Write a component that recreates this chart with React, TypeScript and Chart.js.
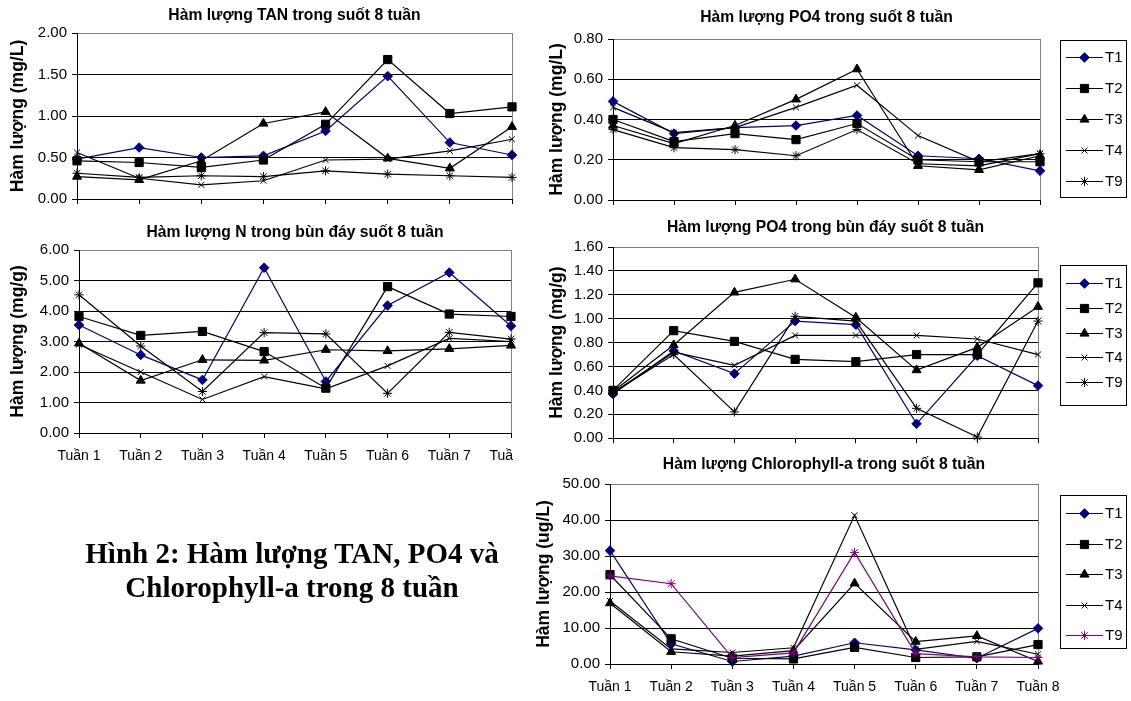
import React, { useEffect, useRef } from 'react';
import { Chart, registerables } from 'chart.js';
import { drawPoint } from 'chart.js/helpers';

Chart.register(...registerables);

const FONT = '"Liberation Sans", Arial, sans-serif';

const weeks = ['Tuần 1', 'Tuần 2', 'Tuần 3', 'Tuần 4', 'Tuần 5', 'Tuần 6', 'Tuần 7', 'Tuần 8'];
const treatments = ['T1', 'T2', 'T3', 'T4', 'T9'];

// Hàm lượng TAN (mg/L)
const tanT1 = [0.48, 0.62, 0.5, 0.52, 0.82, 1.48, 0.68, 0.53];
const tanT2 = [0.46, 0.44, 0.38, 0.47, 0.9, 1.68, 1.03, 1.11];
const tanT3 = [0.27, 0.23, 0.46, 0.91, 1.05, 0.49, 0.37, 0.87];
const tanT4 = [0.56, 0.25, 0.17, 0.22, 0.47, 0.48, 0.58, 0.72];
const tanT9 = [0.31, 0.26, 0.28, 0.27, 0.34, 0.3, 0.28, 0.26];

// Hàm lượng PO4 (mg/L)
const po4T1 = [0.49, 0.33, 0.36, 0.37, 0.42, 0.22, 0.205, 0.145];
const po4T2 = [0.4, 0.29, 0.33, 0.3, 0.38, 0.2, 0.19, 0.19];
const po4T3 = [0.37, 0.28, 0.37, 0.5, 0.65, 0.17, 0.15, 0.22];
const po4T4 = [0.46, 0.335, 0.36, 0.46, 0.57, 0.32, 0.19, 0.23];
const po4T9 = [0.35, 0.26, 0.25, 0.22, 0.35, 0.18, 0.17, 0.23];

// Hàm lượng N trong bùn đáy (mg/g)
const nT1 = [3.54, 2.56, 1.74, 5.42, 1.69, 4.18, 5.26, 3.51];
const nT2 = [3.82, 3.2, 3.33, 2.67, 1.47, 4.8, 3.9, 3.82];
const nT3 = [2.94, 1.72, 2.4, 2.38, 2.73, 2.69, 2.76, 2.87];
const nT4 = [2.9, 2.0, 1.1, 1.85, 1.45, 2.2, 3.1, 3.0];
const nT9 = [4.53, 2.85, 1.36, 3.29, 3.25, 1.3, 3.3, 3.08];

// Hàm lượng PO4 trong bùn đáy (mg/g)
const mudT1 = [0.37, 0.73, 0.54, 0.98, 0.95, 0.12, 0.69, 0.44];
const mudT2 = [0.4, 0.9, 0.81, 0.66, 0.64, 0.7, 0.7, 1.3];
const mudT3 = [0.39, 0.78, 1.22, 1.33, 1.01, 0.57, 0.76, 1.1];
const mudT4 = [0.38, 0.72, 0.61, 0.86, 0.86, 0.86, 0.83, 0.7];
const mudT9 = [0.38, 0.7, 0.22, 1.02, 0.98, 0.25, 0.01, 0.98];

// Hàm lượng Chlorophyll-a (ug/L)
const chlT1 = [31.5, 5.6, 0.7, 2.2, 5.9, 3.9, 1.6, 9.9];
const chlT2 = [24.8, 7.0, 1.6, 1.4, 4.6, 1.8, 2.0, 5.4];
const chlT3 = [16.9, 3.4, 2.2, 3.7, 22.4, 6.2, 7.8, 0.7];
const chlT4 = [17.5, 4.2, 3.2, 4.5, 41.3, 4.1, 6.3, 2.7];
const chlT9 = [24.5, 22.3, 1.8, 3.1, 31.0, 2.9, 2.0, 1.8];

const seriesColors = ['#000080', '#000000', '#000000', '#000000', '#000000'];
const chlColors = ['#000080', '#000000', '#000000', '#000000', '#800080'];
const pointStyles = ['rectRot', 'rect', 'triangle', 'crossRot', 'star'];
const pointRadii = [4.8, 5.8, 5.2, 4.2, 4.6];

const TITLE_SIZE = 15.7;
const YTITLE_SIZE = 17.5;

function makeDatasets(values: number[][], cols: string[]) {
  return treatments.map((name, i) => ({
    label: name,
    data: values[i],
    borderColor: cols[i],
    backgroundColor: cols[i],
    pointBackgroundColor: cols[i],
    pointBorderColor: cols[i],
    pointBorderWidth: 1,
    borderWidth: 1.2,
    pointStyle: pointStyles[i],
    pointRadius: pointRadii[i],
    tension: 0,
    clip: false,
    order: treatments.length - i,
  }));
}

const excelDecor = {
  id: 'excelDecor',
  beforeDraw(chart: any, _a: any, opts: any) {
    if (opts && opts.clipX) {
      chart.ctx.save();
      chart.ctx.beginPath();
      chart.ctx.rect(0, 0, opts.clipX, chart.height);
      chart.ctx.clip();
      chart.$clipped = true;
    }
  },
  beforeDatasetsDraw(chart: any) {
    const ctx = chart.ctx;
    if (chart.$clipped) {
      ctx.restore();
      chart.$clipped = false;
    }
    const a = chart.chartArea;
    const x = Math.round(a.right - 0.5) + 0.5;
    ctx.save();
    ctx.strokeStyle = '#808080';
    ctx.lineWidth = 1;
    ctx.beginPath();
    ctx.moveTo(x, a.top);
    ctx.lineTo(x, a.bottom);
    ctx.stroke();
    ctx.restore();
  },
  afterDraw(chart: any, _a: any, opts: any) {
    const lg = opts && opts.legend;
    if (!lg) return;
    const ctx = chart.ctx;
    ctx.save();
    ctx.strokeStyle = '#000';
    ctx.lineWidth = 1;
    ctx.strokeRect(Math.round(lg.x) + 0.5, Math.round(lg.y) + 0.5, lg.w, lg.h);
    chart.data.datasets.forEach((ds: any, i: number) => {
      const cy = Math.round(lg.y + lg.first + i * lg.step) + 0.5;
      ctx.strokeStyle = ds.borderColor;
      ctx.lineWidth = ds.borderWidth;
      ctx.beginPath();
      ctx.moveTo(lg.x + 6, cy);
      ctx.lineTo(lg.x + 43, cy);
      ctx.stroke();
      ctx.fillStyle = ds.pointBackgroundColor;
      ctx.strokeStyle = ds.pointBorderColor;
      ctx.lineWidth = ds.pointBorderWidth;
      drawPoint(ctx, { pointStyle: ds.pointStyle, rotation: 0, radius: ds.pointRadius, borderWidth: ds.pointBorderWidth } as any, lg.x + 24.5, cy);
      ctx.fillStyle = '#000';
      ctx.font = '15px ' + FONT;
      ctx.textBaseline = 'middle';
      ctx.textAlign = 'left';
      ctx.fillText(ds.label, lg.x + 45, cy);
    });
    ctx.restore();
  },
};

interface Spec {
  left: number;
  top: number;
  width: number;
  height: number;
  area: [number, number, number, number];
  title: string;
  titleY: number;
  yTitle: string;
  yTitleX: number;
  yMax: number;
  yStep: number;
  showX: boolean;
  values: number[][];
  colors: string[];
  legend?: { x: number; y: number; w: number; h: number; first: number; step: number };
  clipX?: number;
}

function buildConfig(s: Spec): any {
  const lh = TITLE_SIZE * 1.2;
  const aTop = s.area[1] - s.top;
  const tc = s.titleY - s.top;
  const ylh = YTITLE_SIZE * 1.2;
  const ytx = s.yTitleX - s.left;
  const yWidth = s.area[0] - s.left;
  const xHeight = s.height - (s.area[3] - s.top);
  const padRight = s.width - (s.area[2] - s.left);
  const yMax = s.yMax;
  return {
    type: 'line',
    data: { labels: weeks, datasets: makeDatasets(s.values, s.colors) },
    plugins: [excelDecor],
    options: {
      responsive: false,
      animation: false,
      events: [],
      devicePixelRatio: 1,
      layout: { padding: { left: 0, top: 0, right: padRight, bottom: 0 } },
      plugins: {
        legend: { display: false },
        tooltip: { enabled: false },
        title: {
          display: true,
          text: s.title,
          fullSize: false,
          color: '#000',
          font: { size: TITLE_SIZE, weight: 'bold', family: FONT },
          padding: { top: tc - lh / 2, bottom: aTop - tc - lh / 2 },
        },
        excelDecor: {
          clipX: s.clipX ? s.clipX - s.left : 0,
          legend: s.legend
            ? { x: s.legend.x - s.left, y: s.legend.y - s.top, w: s.legend.w, h: s.legend.h, first: s.legend.first, step: s.legend.step }
            : null,
        },
      },
      scales: {
        x: {
          type: 'category',
          offset: false,
          grid: { display: true, drawOnChartArea: false, drawTicks: true, tickLength: 5, color: '#000', lineWidth: 1 },
          border: { display: true, color: '#000', width: 1 },
          ticks: {
            display: s.showX,
            autoSkip: false,
            maxRotation: 0,
            minRotation: 0,
            font: { size: 14, family: FONT },
            color: '#000',
            padding: 10,
          },
          afterFit: (sc: any) => {
            sc.height = xHeight;
            sc.paddingLeft = 0;
            sc.paddingRight = 0;
          },
        },
        y: {
          min: 0,
          max: yMax,
          ticks: {
            stepSize: s.yStep,
            callback: (v: any) => Number(v).toFixed(2),
            font: { size: 15, family: FONT },
            color: '#000',
            padding: 5,
          },
          grid: {
            color: (c: any) => (c.tick && Math.abs(c.tick.value - yMax) < 1e-6 ? '#808080' : '#000'),
            tickColor: '#000',
            lineWidth: 1,
            tickLength: 5,
          },
          border: { display: true, color: '#000', width: 1 },
          title: {
            display: true,
            text: s.yTitle,
            color: '#000',
            font: { size: YTITLE_SIZE, weight: 'bold', family: FONT },
            padding: { top: ytx - ylh / 2, bottom: 0 },
          },
          afterFit: (sc: any) => {
            sc.width = yWidth;
            sc.paddingTop = 0;
            sc.paddingBottom = 0;
          },
        },
      },
    },
  };
}

const specs: Spec[] = [
  {
    left: 0, top: 0, width: 520, height: 210,
    area: [77, 33, 512, 199],
    title: 'Hàm lượng TAN trong suốt 8 tuần', titleY: 16,
    yTitle: 'Hàm lượng (mg/L)', yTitleX: 18,
    yMax: 2, yStep: 0.5, showX: false,
    values: [tanT1, tanT2, tanT3, tanT4, tanT9], colors: seriesColors,
  },
  {
    left: 0, top: 215, width: 520, height: 260,
    area: [79, 250, 511, 433],
    title: 'Hàm lượng N trong bùn đáy suốt 8 tuần', titleY: 233,
    yTitle: 'Hàm lượng (mg/g)', yTitleX: 18,
    yMax: 6, yStep: 1, showX: true,
    values: [nT1, nT2, nT3, nT4, nT9], colors: seriesColors,
    clipX: 513,
  },
  {
    left: 520, top: 0, width: 611, height: 210,
    area: [613, 39, 1040, 200],
    title: 'Hàm lượng PO4 trong suốt 8 tuần', titleY: 18,
    yTitle: 'Hàm lượng (mg/L)', yTitleX: 557,
    yMax: 0.8, yStep: 0.2, showX: false,
    values: [po4T1, po4T2, po4T3, po4T4, po4T9], colors: seriesColors,
    legend: { x: 1060, y: 40, w: 66, h: 157, first: 17, step: 31 },
  },
  {
    left: 520, top: 210, width: 611, height: 235,
    area: [613, 247, 1038, 440],
    title: 'Hàm lượng PO4 trong bùn đáy suốt 8 tuần', titleY: 228,
    yTitle: 'Hàm lượng (mg/g)', yTitleX: 557,
    yMax: 1.6, yStep: 0.2, showX: false,
    values: [mudT1, mudT2, mudT3, mudT4, mudT9], colors: seriesColors,
    legend: { x: 1060, y: 265, w: 66, h: 140, first: 18, step: 24.75 },
  },
  {
    left: 520, top: 445, width: 611, height: 256,
    area: [610, 484, 1038, 664],
    title: 'Hàm lượng Chlorophyll-a trong suốt 8 tuần', titleY: 465,
    yTitle: 'Hàm lượng (ug/L)', yTitleX: 544,
    yMax: 50, yStep: 10, showX: true,
    values: [chlT1, chlT2, chlT3, chlT4, chlT9], colors: chlColors,
    legend: { x: 1060, y: 495, w: 66, h: 153, first: 18, step: 30.5 },
  },
];

function ChartBox({ spec }: { spec: Spec }) {
  const ref = useRef<HTMLCanvasElement>(null);
  useEffect(() => {
    const chart = new Chart(ref.current as HTMLCanvasElement, buildConfig(spec));
    return () => chart.destroy();
  }, [spec]);
  return (
    <canvas
      ref={ref}
      width={spec.width}
      height={spec.height}
      style={{ position: 'absolute', left: spec.left, top: spec.top, width: spec.width, height: spec.height, display: 'block' }}
    />
  );
}

export default function App() {
  return (
    <div style={{ position: 'absolute', left: 0, top: 0, width: 1131, height: 701, background: '#fff', overflow: 'hidden' }}>
      {specs.map((s, i) => (
        <ChartBox key={i} spec={s} />
      ))}
      <div
        style={{
          position: 'absolute',
          left: 17,
          top: 536,
          width: 550,
          textAlign: 'center',
          fontFamily: '"Liberation Serif", "Times New Roman", serif',
          fontWeight: 'bold',
          fontSize: 29,
          lineHeight: '34px',
          color: '#000',
        }}
      >
        Hình 2: Hàm lượng TAN, PO4 và
        <br />
        Chlorophyll-a trong 8 tuần
      </div>
    </div>
  );
}
